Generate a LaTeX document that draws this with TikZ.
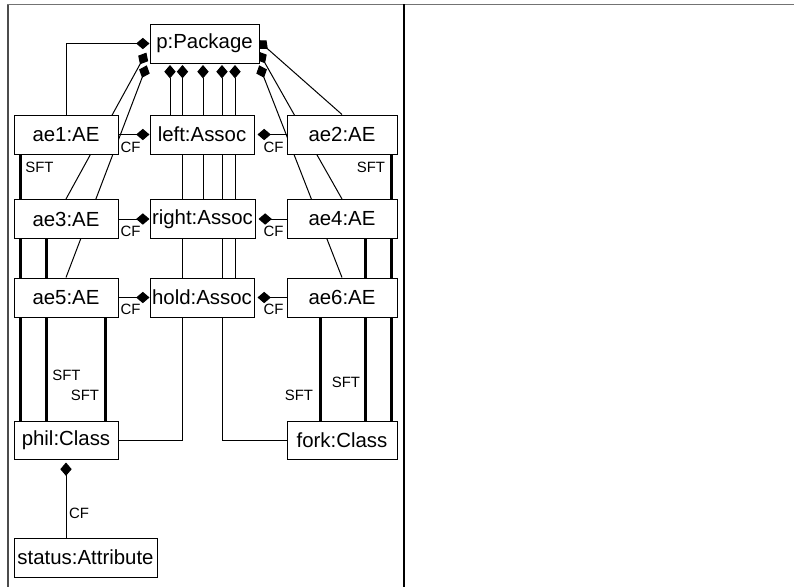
\documentclass[tikz,border=0pt]{standalone}
\usepackage{fontspec}
\setmainfont{Liberation Sans}
\usetikzlibrary{arrows.meta,backgrounds}
\begin{document}
\begin{tikzpicture}[x=0.75pt,y=-0.75pt,
  box/.style={draw,line width=0.75pt,fill=white,inner sep=0pt,minimum height=29.25pt,font=\fontsize{15.3}{18}\selectfont},
  wa/.style={minimum width=78pt},
  wb/.style={minimum width=82.5pt},
  comp/.style={line width=0.75pt,-{Diamond[length=10pt,width=8.5pt]}},
  sftline/.style={line width=2.25pt},
  lbl/.style={font=\fontsize{11.2}{13}\selectfont,inner sep=0pt}
]
\useasboundingbox (0,0) rectangle (794,587);

% frame
\draw[line width=1.5pt,black!70] (7.5,4) -- (7.5,587);
\draw[line width=1.3pt,black!55] (7,4.5) -- (794,4.5);
\draw[line width=1.5pt] (404,4) -- (404,587);

% nodes
\node[box,minimum width=81.75pt] (pkg) at (204.5,43.5) {p:Package};
\node[box,wa] (ae1) at (66,134.5) {ae1:AE};
\node[box,wa] (left) at (202,134.5) {left:Assoc};
\node[box,wb] (ae2) at (342,134.5) {ae2:AE};
\node[box,wa] (ae3) at (66,219) {ae3:AE};
\node[box,minimum width=78.75pt] (right) at (202.5,219) {right:Assoc};
\node[box,wb] (ae4) at (342,219) {ae4:AE};
\node[box,wa] (ae5) at (66,297.5) {ae5:AE};
\node[box,wa] (hold) at (202,297.5) {hold:Assoc};
\node[box,wb] (ae6) at (342,297.5) {ae6:AE};
\node[box,wa,minimum height=28.5pt] (phil) at (66,440) {phil:Class};
\node[box,wb,minimum height=28.5pt] (fork) at (342,440) {fork:Class};
\node[box,minimum width=107.25pt] (status) at (85.5,557.5) {status:Attribute};

% anchor coordinates at the package
\coordinate (pL1) at (146.4,52.6);
\coordinate (pL2) at (146.8,65.3);
\coordinate (pR1) at (257.8,40.2);
\coordinate (pR2) at (258.5,51.6);
\coordinate (pR3) at (259.2,65.3);
\coordinate (pk1) at (170,65);
\coordinate (pk2) at (182.5,65);
\coordinate (pk3) at (203,65);
\coordinate (pk4) at (222,65);
\coordinate (pk5) at (235,65);
\coordinate (s1) at (20,0);
\coordinate (s3) at (46.5,0);
\coordinate (s5) at (105,0);
\coordinate (s2) at (391,0);
\coordinate (s4) at (365,0);
\coordinate (s6) at (320,0);

\begin{scope}[on background layer]
  % package compositions
  \draw[comp] (ae1.north) |- (pkg.west);
  \draw[comp] (ae3.north) -- (pL1);
  \draw[comp] (ae5.north) -- (pL2);
  \draw[comp] (ae2.north) -- (pR1);
  \draw[comp] (ae4.north) -- (pR2);
  \draw[comp] (ae6.north) -- (pR3);
  \draw[comp] (left.north -| pk1) -- (pk1);
  \draw[comp] (phil.east) -| (pk2);
  \draw[comp] (right.north -| pk3) -- (pk3);
  \draw[comp] (fork.west) -| (pk4);
  \draw[comp] (hold.north -| pk5) -- (pk5);
  % CF links to associations
  \draw[comp] (ae1.east) -- (left.west);
  \draw[comp,shorten >=2.25pt] (ae2.west) -- (left.east);
  \draw[comp] (ae3.east) -- (right.west);
  \draw[comp,shorten >=2.25pt] (ae4.west) -- (right.east);
  \draw[comp] (ae5.east) -- (hold.west);
  \draw[comp,shorten >=2.25pt] (ae6.west) -- (hold.east);
  \draw[comp,shorten >=2.25pt] (status.north -| phil.south) -- (phil.south);
  % SFT links
  \draw[sftline] (s1 |- ae1.south) -- (s1 |- phil.north);
  \draw[sftline] (s3 |- ae3.south) -- (s3 |- phil.north);
  \draw[sftline] (s5 |- ae5.south) -- (s5 |- phil.north);
  \draw[sftline] (s2 |- ae2.south) -- (s2 |- fork.north);
  \draw[sftline] (s4 |- ae4.south) -- (s4 |- fork.north);
  \draw[sftline] (s6 |- ae6.south) -- (s6 |- fork.north);
\end{scope}

% labels
\node[lbl] (c1) at (130.5,147.5) {CF};
\node[lbl] (c2) at (273.5,147.5) {CF};
\node[lbl] (c3) at (130.5,231.5) {CF};
\node[lbl] (c4) at (273.5,231.5) {CF};
\node[lbl] (c5) at (130.5,309.5) {CF};
\node[lbl] (c6) at (273.5,309.5) {CF};
\node[lbl] (c7) at (79,513) {CF};
\node[lbl] (t1) at (39.5,167) {SFT};
\node[lbl] (t3) at (66.5,375) {SFT};
\node[lbl] (t5) at (85,395) {SFT};
\node[lbl] (t2) at (371,167) {SFT};
\node[lbl] (t4) at (346,382) {SFT};
\node[lbl] (t6) at (299,395) {SFT};
\end{tikzpicture}
\end{document}
